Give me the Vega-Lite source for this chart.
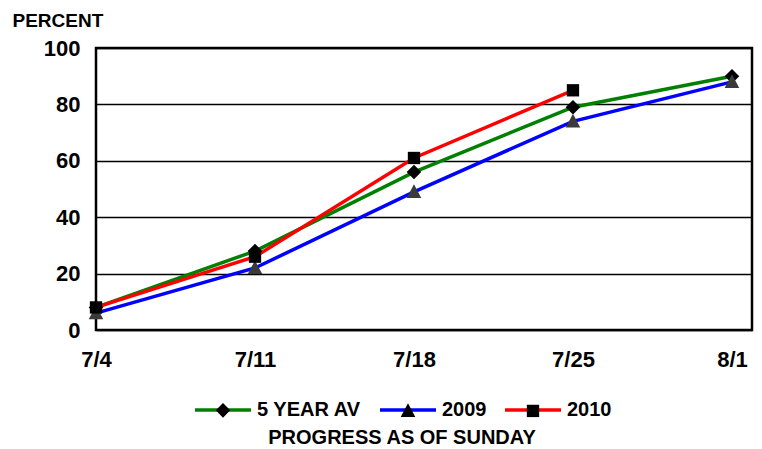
{
  "$schema": "https://vega.github.io/schema/vega-lite/v6.json",
  "width": 656,
  "height": 282,
  "autosize": {"type": "none"},
  "padding": {"left": 96, "top": 48, "right": 10, "bottom": 119},
  "background": "white",
  "config": {
    "font": "Liberation Sans",
    "view": {"stroke": "black", "strokeWidth": 2.5}
  },
  "data": {
    "values": [
      {"week": "7/4", "series": "5 YEAR AV", "pct": 8},
      {"week": "7/11", "series": "5 YEAR AV", "pct": 28},
      {"week": "7/18", "series": "5 YEAR AV", "pct": 56},
      {"week": "7/25", "series": "5 YEAR AV", "pct": 79},
      {"week": "8/1", "series": "5 YEAR AV", "pct": 90},
      {"week": "7/4", "series": "2009", "pct": 6},
      {"week": "7/11", "series": "2009", "pct": 22},
      {"week": "7/18", "series": "2009", "pct": 49},
      {"week": "7/25", "series": "2009", "pct": 74},
      {"week": "8/1", "series": "2009", "pct": 88},
      {"week": "7/4", "series": "2010", "pct": 8},
      {"week": "7/11", "series": "2010", "pct": 26},
      {"week": "7/18", "series": "2010", "pct": 61},
      {"week": "7/25", "series": "2010", "pct": 85}
    ]
  },
  "encoding": {
    "x": {
      "field": "week",
      "type": "ordinal",
      "sort": null,
      "scale": {"type": "point", "padding": 0.063, "align": 0},
      "axis": {
        "title": null,
        "labelAngle": 0,
        "labelFontSize": 22,
        "labelFontWeight": "bold",
        "labelColor": "black",
        "ticks": false,
        "tickSize": 0,
        "domain": false,
        "grid": false,
        "labelPadding": 19
      }
    },
    "y": {
      "field": "pct",
      "type": "quantitative",
      "scale": {"domain": [0, 100], "nice": false},
      "axis": {
        "values": [0, 20, 40, 60, 80, 100],
        "title": "PERCENT",
        "titleAngle": 0,
        "titleAlign": "left",
        "titleBaseline": "alphabetic",
        "titleX": -84,
        "titleY": -22,
        "titleFontSize": 19,
        "titleFontWeight": "bold",
        "titleColor": "black",
        "labelFontSize": 22,
        "labelFontWeight": "bold",
        "labelColor": "black",
        "labelPadding": 16,
        "ticks": false,
        "tickSize": 0,
        "domain": false,
        "gridColor": "black",
        "gridWidth": 1.5,
        "gridOpacity": 1
      }
    }
  },
  "layer": [
    {
      "mark": {"type": "line", "strokeWidth": 3.5},
      "encoding": {
        "color": {
          "field": "series",
          "type": "nominal",
          "scale": {"domain": ["5 YEAR AV", "2009", "2010"], "range": ["#008000", "#0000FF", "#FF0000"]},
          "legend": {
            "orient": "none",
            "legendX": 97,
            "legendY": 332,
            "direction": "horizontal",
            "title": "PROGRESS AS OF SUNDAY",
            "titleOrient": "bottom",
            "titleAnchor": "middle",
            "titleFontSize": 20,
            "titleFontWeight": "bold",
            "titleColor": "black",
            "titlePadding": 8,
            "titleLimit": 700,
            "labelFontSize": 20,
            "labelFontWeight": "bold",
            "labelColor": "black",
            "labelOffset": 4,
            "labelLimit": 300,
            "symbolType": "stroke",
            "symbolSize": 3136,
            "symbolStrokeWidth": 3.5,
            "symbolOpacity": 1,
            "columnPadding": 11
          }
        }
      }
    },
    {
      "mark": {"type": "point", "filled": true, "opacity": 1, "size": 3136},
      "encoding": {
        "shape": {
          "field": "series",
          "type": "nominal",
          "sort": null,
          "scale": {
            "range": [
              "M-1,0M1,0M0,-0.26L0.26,0L0,0.26L-0.26,0Z",
              "M-1,0M1,0M0,-0.27L0.26,0.22L-0.26,0.22Z",
              "M-1,0M1,0M-0.22,-0.22H0.22V0.22H-0.22Z"
            ]
          },
          "legend": {
            "orient": "none",
            "legendX": 97,
            "legendY": 332,
            "direction": "horizontal",
            "title": null,
            "labelFontSize": 20,
            "labelFontWeight": "bold",
            "labelOpacity": 0,
            "labelOffset": 4,
            "labelLimit": 300,
            "symbolSize": 3136,
            "symbolStrokeWidth": 3.5,
            "symbolStrokeColor": "transparent",
            "symbolOpacity": 1,
            "columnPadding": 11,
            "encode": {
              "symbols": {
                "update": {
                  "fill": {"signal": "datum.value === '2009' ? '#3a3a3a' : 'black'"},
                  "stroke": {"value": "transparent"},
                  "opacity": {"value": 1}
                }
              }
            }
          }
        },
        "fill": {
          "condition": {"test": "datum.series === '2009'", "value": "#3a3a3a"},
          "value": "black"
        }
      }
    }
  ]
}
